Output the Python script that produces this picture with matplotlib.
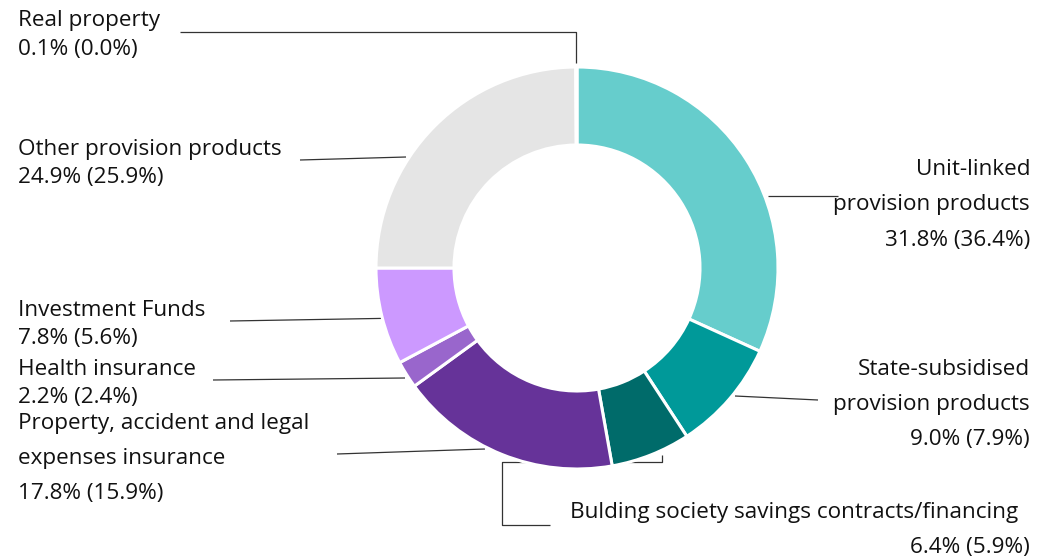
import matplotlib
matplotlib.use("Agg")
import matplotlib.pyplot as plt

# Portfolio composition: current share and previous-year share (in %)
categories = [
    "Unit-linked provision products",
    "State-subsidised provision products",
    "Bulding society savings contracts/financing",
    "Property, accident and legal expenses insurance",
    "Health insurance",
    "Investment Funds",
    "Other provision products",
    "Real property",
]
share = [31.8, 9.0, 6.4, 17.8, 2.2, 7.8, 24.9, 0.1]
share_prev = [36.4, 7.9, 5.9, 15.9, 2.4, 5.6, 25.9, 0.0]
colors = ["#66CDCC", "#009999", "#006B6A", "#663399", "#9966CC",
          "#CC99FF", "#E5E5E5", "#B0B0B0"]

W, H = 1045, 557
fig = plt.figure(figsize=(W / 100, H / 100), dpi=100)
ax = fig.add_axes([0, 0, 1, 1])
ax.set_xlim(0, W)
ax.set_ylim(0, H)
ax.set_aspect("equal")
ax.axis("off")

def Y(p):
    return H - p

cx, cy, R, ring = 577, Y(268), 201, 78
ax.pie(share, colors=colors, startangle=90, counterclock=False,
       radius=R, center=(cx, cy),
       wedgeprops=dict(width=ring, edgecolor="white", linewidth=2.2),
       frame=False)
ax.set_xlim(0, W)
ax.set_ylim(0, H)
for p in ax.patches:
    p.set_zorder(3)

line_kw = dict(color="#333333", lw=0.9, zorder=1, solid_capstyle="butt")
leaders = [
    [(768, 196), (838, 196)],
    [(735, 396), (818, 400)],
    [(662, 455), (662, 462), (502, 462), (502, 525), (550, 525)],
    [(337, 454), (485, 449)],
    [(213, 380), (405, 378)],
    [(230, 321), (405, 318)],
    [(300, 160), (406, 157)],
    [(180, 32), (576, 32), (576, 63)],
]
for pts in leaders:
    xs = [p[0] for p in pts]
    ys = [Y(p[1]) for p in pts]
    ax.plot(xs, ys, **line_kw)

fs = 16.2
tc = "#111111"
fam = ["Open Sans", "DejaVu Sans"]
dy = 2.5

def pct(i):
    return f"{share[i]:.1f}% ({share_prev[i]:.1f}%)"

def txt(x, y, s, ha="left"):
    ax.text(x, Y(y + dy), s, ha=ha, va="center", fontsize=fs, color=tc,
            family=fam, zorder=5)

# right-hand labels
txt(1030, 167, "Unit-linked", "right")
txt(1030, 202, "provision products", "right")
txt(1030, 238, pct(0), "right")
txt(1030, 367, "State-subsidised", "right")
txt(1030, 402, "provision products", "right")
txt(1030, 437, pct(1), "right")
txt(570, 510, categories[2])
txt(1030, 545, pct(2), "right")

# left-hand labels
txt(18, 18, categories[7])
txt(18, 47, pct(7))
txt(18, 147, categories[6])
txt(18, 175, pct(6))
txt(18, 308, categories[5])
txt(18, 336, pct(5))
txt(18, 367, categories[4])
txt(18, 395, pct(4))
txt(18, 421, "Property, accident and legal")
txt(18, 456, "expenses insurance")
txt(18, 491, pct(3))

fig.savefig("out.png", dpi=100)
